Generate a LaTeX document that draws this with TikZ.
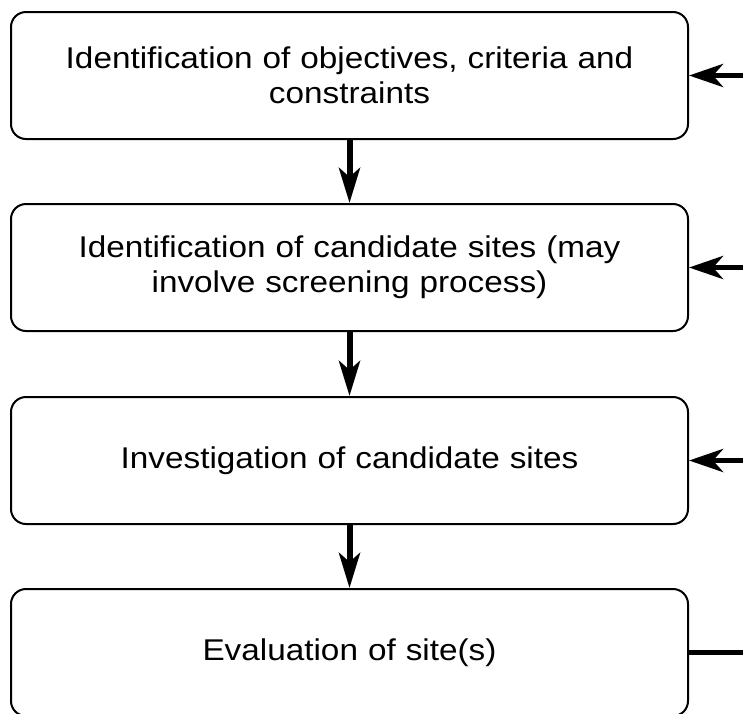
\documentclass[tikz,border=0pt]{standalone}
\usepackage{fontspec}
\setmainfont[FakeStretch=1.11]{Liberation Sans}
\usetikzlibrary{arrows.meta}
\begin{document}
\begin{tikzpicture}[x=1pt,y=-1pt,
  stage/.style={draw, line width=2pt, rounded corners=15pt, minimum width=677pt, minimum height=127pt, text width=660pt, align=center, font=\fontsize{30}{35}\selectfont, inner sep=0pt},
  flow/.style={line width=6pt, -{Stealth[length=35pt,width=21pt,inset=9pt]}},
  back/.style={line width=5.5pt, -{Stealth[length=34pt,width=23pt,inset=10pt]}}]
\useasboundingbox (0,0) rectangle (743,713);
\clip (0,0) rectangle (743,713);
\node[stage] (s1) at (349.5,75.5) {Identification of objectives, criteria and\\constraints};
\node[stage] (s2) at (349.5,267.5) {Identification of candidate sites (may\\involve screening process)};
\node[stage] (s3) at (349.5,460.5) {Investigation of candidate sites};
\node[stage] (s4) at (349.5,652.5) {Evaluation of site(s)};
\coordinate (r1) at (750,75.5);
\coordinate (r2) at (750,267.5);
\coordinate (r3) at (750,460.5);
\coordinate (r4) at (750,652.5);
\draw[flow] (s1.south) -- (s2.north);
\draw[flow] (s2.south) -- (s3.north);
\draw[flow] (s3.south) -- (s4.north);
\draw[back] (r1) -- (s1.east);
\draw[back] (r2) -- (s2.east);
\draw[back] (r3) -- (s3.east);
\draw[line width=5.5pt] (s4.east) -- (r4);
\end{tikzpicture}
\end{document}
